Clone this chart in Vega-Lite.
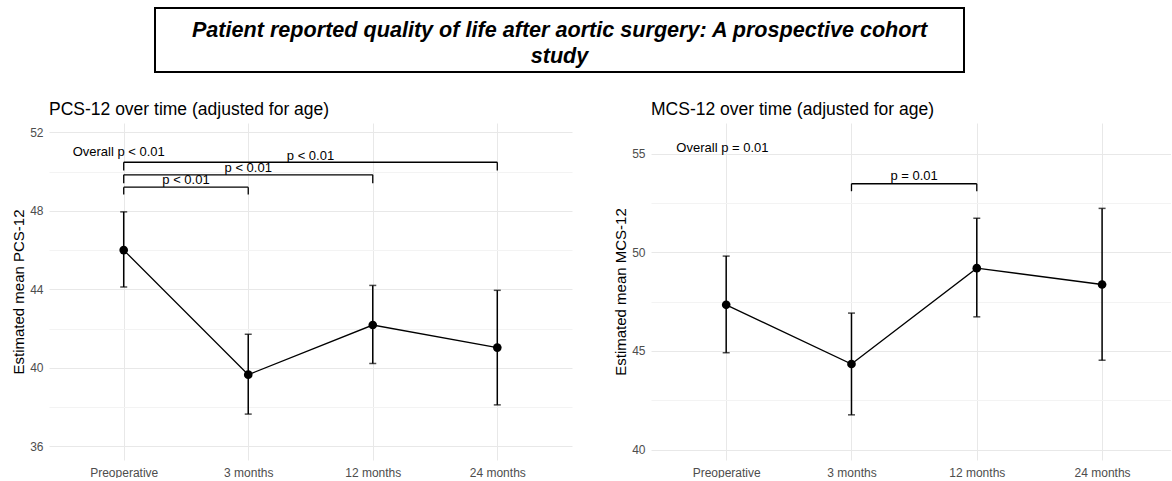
{
  "$schema": "https://vega.github.io/schema/vega-lite/v6.json",
  "padding": {"left": 11, "top": 7, "right": 0, "bottom": 0},
  "background": "white",
  "config": {
    "view": {"stroke": null},
    "font": "Liberation Sans",
    "axis": {"labelFont": "Liberation Sans", "titleFont": "Liberation Sans"}
  },
  "datasets": {
    "pcs": [
      {"time": "Preoperative", "t": 0, "mean": 46.0, "lo": 44.12, "hi": 47.95},
      {"time": "3 months", "t": 1, "mean": 39.65, "lo": 37.64, "hi": 41.71},
      {"time": "12 months", "t": 2, "mean": 42.18, "lo": 40.22, "hi": 44.2},
      {"time": "24 months", "t": 3, "mean": 41.03, "lo": 38.11, "hi": 43.95}
    ],
    "mcs": [
      {"time": "Preoperative", "t": 0, "mean": 47.34, "lo": 44.91, "hi": 49.81},
      {"time": "3 months", "t": 1, "mean": 44.34, "lo": 41.76, "hi": 46.92},
      {"time": "12 months", "t": 2, "mean": 49.2, "lo": 46.73, "hi": 51.73},
      {"time": "24 months", "t": 3, "mean": 48.37, "lo": 44.53, "hi": 52.23}
    ],
    "pcsBr": [
      {"from": 0, "to": 1, "y": 49.21, "leg": 48.84},
      {"from": 0, "to": 2, "y": 49.84, "leg": 49.41},
      {"from": 0, "to": 3, "y": 50.48, "leg": 50.06}
    ],
    "pcsText": [
      {"x": -0.04, "y": 51.02, "label": "Overall p < 0.01"},
      {"x": 0.5, "y": 49.55, "label": "p < 0.01"},
      {"x": 1, "y": 50.19, "label": "p < 0.01"},
      {"x": 1.5, "y": 50.82, "label": "p < 0.01"}
    ],
    "mcsBr": [
      {"from": 1, "to": 2, "y": 53.48, "leg": 53.1}
    ],
    "mcsText": [
      {"x": -0.03, "y": 55.3, "label": "Overall p = 0.01"},
      {"x": 1.5, "y": 53.85, "label": "p = 0.01"}
    ],
    "header": [
      {"line": ["Patient reported quality of life after aortic surgery: A prospective cohort", "study"]}
    ]
  },
  "spacing": 27,
  "vconcat": [
    {
      "spacing": 0,
      "hconcat": [
        {"width": 105, "height": 64, "data": {"values": [{"a": 1}]}, "mark": {"type": "text", "text": ""}, "encoding": {}},
        {
          "width": 809, "height": 64,
          "view": {"stroke": "black", "strokeWidth": 2, "fill": "white"},
          "data": {"name": "header"},
          "mark": {"type": "text", "font": "Liberation Sans", "fontSize": 21.6, "fontWeight": "bold", "fontStyle": "italic", "lineHeight": 26, "baseline": "middle", "align": "center", "dy": -9, "color": "black"},
          "encoding": {"text": {"field": "line"}}
        }
      ]
    },
    {
      "spacing": 41,
      "hconcat": [
        {
          "width": 523, "height": 337,
          "title": {"text": "PCS-12 over time (adjusted for age)", "anchor": "start", "frame": "group", "fontSize": 17.5, "fontWeight": "normal", "color": "black", "offset": 5, "font": "Liberation Sans"},
          "layer": [
            {
              "data": {"name": "pcs"},
              "mark": {"type": "rule", "strokeWidth": 1.5, "color": "black"},
              "encoding": {
                "x": {"field": "t", "type": "quantitative", "title": null,
                  "scale": {"domain": [-0.6, 3.6], "nice": false, "zero": false},
                  "axis": {"values": [0, 1, 2, 3], "labelExpr": "['Preoperative','3 months','12 months','24 months'][datum.value]", "grid": true, "gridColor": "#e8e8e8", "gridWidth": 1, "domain": false, "ticks": false, "labelPadding": 7, "labelFontSize": 12, "labelColor": "#4d4d4d", "labelFlush": false, "labelOverlap": false}},
                "y": {"field": "lo", "type": "quantitative", "title": "Estimated mean PCS-12",
                  "scale": {"domain": [35.3, 52.48], "nice": false, "zero": false},
                  "axis": {"values": [36, 38, 40, 42, 44, 46, 48, 50, 52], "labelExpr": "datum.value % 4 == 0 ? datum.label : ''", "grid": true, "gridColor": {"condition": {"test": "datum.value % 4 == 0", "value": "#e8e8e8"}, "value": "#f3f3f3"}, "gridWidth": 1, "domain": false, "ticks": false, "labelPadding": 6, "labelFontSize": 12, "labelColor": "#4d4d4d", "labelOverlap": false, "titleFontSize": 15, "titleFontWeight": "normal", "titleColor": "black", "titlePadding": 3}},
                "y2": {"field": "hi"}
              }
            },
            {
              "data": {"name": "pcs"},
              "mark": {"type": "tick", "orient": "horizontal", "size": 7, "thickness": 1.5, "color": "black"},
              "encoding": {"x": {"field": "t", "type": "quantitative", "title": null}, "y": {"field": "hi", "type": "quantitative", "title": "Estimated mean PCS-12"}}
            },
            {
              "data": {"name": "pcs"},
              "mark": {"type": "tick", "orient": "horizontal", "size": 7, "thickness": 1.5, "color": "black"},
              "encoding": {"x": {"field": "t", "type": "quantitative", "title": null}, "y": {"field": "lo", "type": "quantitative", "title": "Estimated mean PCS-12"}}
            },
            {
              "data": {"name": "pcs"},
              "mark": {"type": "line", "strokeWidth": 1.3, "color": "black"},
              "encoding": {"x": {"field": "t", "type": "quantitative", "title": null}, "y": {"field": "mean", "type": "quantitative", "title": "Estimated mean PCS-12"}}
            },
            {
              "data": {"name": "pcs"},
              "mark": {"type": "circle", "size": 75, "opacity": 1, "color": "black"},
              "encoding": {"x": {"field": "t", "type": "quantitative", "title": null}, "y": {"field": "mean", "type": "quantitative", "title": "Estimated mean PCS-12"}}
            },
            {
              "data": {"name": "pcsBr"},
              "mark": {"type": "rule", "strokeWidth": 1.3, "color": "black"},
              "encoding": {"x": {"field": "from", "type": "quantitative", "title": null}, "x2": {"field": "to"}, "y": {"field": "y", "type": "quantitative", "title": "Estimated mean PCS-12"}}
            },
            {
              "data": {"name": "pcsBr"},
              "mark": {"type": "rule", "strokeWidth": 1.3, "color": "black"},
              "encoding": {"x": {"field": "from", "type": "quantitative", "title": null}, "y": {"field": "y", "type": "quantitative", "title": "Estimated mean PCS-12"}, "y2": {"field": "leg"}}
            },
            {
              "data": {"name": "pcsBr"},
              "mark": {"type": "rule", "strokeWidth": 1.3, "color": "black"},
              "encoding": {"x": {"field": "to", "type": "quantitative", "title": null}, "y": {"field": "y", "type": "quantitative", "title": "Estimated mean PCS-12"}, "y2": {"field": "leg"}}
            },
            {
              "data": {"name": "pcsText"},
              "mark": {"type": "text", "fontSize": 13, "color": "black", "baseline": "middle", "align": "center", "font": "Liberation Sans"},
              "encoding": {"x": {"field": "x", "type": "quantitative", "title": null}, "y": {"field": "y", "type": "quantitative", "title": "Estimated mean PCS-12"}, "text": {"field": "label"}}
            }
          ]
        },
        {
          "width": 520, "height": 337,
          "title": {"text": "MCS-12 over time (adjusted for age)", "anchor": "start", "frame": "group", "fontSize": 17.5, "fontWeight": "normal", "color": "black", "offset": 5, "font": "Liberation Sans"},
          "layer": [
            {
              "data": {"name": "mcs"},
              "mark": {"type": "rule", "strokeWidth": 1.5, "color": "black"},
              "encoding": {
                "x": {"field": "t", "type": "quantitative", "title": null,
                  "scale": {"domain": [-0.6, 3.55], "nice": false, "zero": false},
                  "axis": {"values": [0, 1, 2, 3], "labelExpr": "['Preoperative','3 months','12 months','24 months'][datum.value]", "grid": true, "gridColor": "#e8e8e8", "gridWidth": 1, "domain": false, "ticks": false, "labelPadding": 7, "labelFontSize": 12, "labelColor": "#4d4d4d", "labelFlush": false, "labelOverlap": false}},
                "y": {"field": "lo", "type": "quantitative", "title": "Estimated mean MCS-12",
                  "scale": {"domain": [39.47, 56.56], "nice": false, "zero": false},
                  "axis": {"values": [40, 42.5, 45, 47.5, 50, 52.5, 55], "labelExpr": "datum.value % 5 == 0 ? datum.label : ''", "grid": true, "gridColor": {"condition": {"test": "datum.value % 5 == 0", "value": "#e8e8e8"}, "value": "#f3f3f3"}, "gridWidth": 1, "domain": false, "ticks": false, "labelPadding": 6, "labelFontSize": 12, "labelColor": "#4d4d4d", "labelOverlap": false, "titleFontSize": 15, "titleFontWeight": "normal", "titleColor": "black", "titlePadding": 3}},
                "y2": {"field": "hi"}
              }
            },
            {
              "data": {"name": "mcs"},
              "mark": {"type": "tick", "orient": "horizontal", "size": 7, "thickness": 1.5, "color": "black"},
              "encoding": {"x": {"field": "t", "type": "quantitative", "title": null}, "y": {"field": "hi", "type": "quantitative", "title": "Estimated mean MCS-12"}}
            },
            {
              "data": {"name": "mcs"},
              "mark": {"type": "tick", "orient": "horizontal", "size": 7, "thickness": 1.5, "color": "black"},
              "encoding": {"x": {"field": "t", "type": "quantitative", "title": null}, "y": {"field": "lo", "type": "quantitative", "title": "Estimated mean MCS-12"}}
            },
            {
              "data": {"name": "mcs"},
              "mark": {"type": "line", "strokeWidth": 1.3, "color": "black"},
              "encoding": {"x": {"field": "t", "type": "quantitative", "title": null}, "y": {"field": "mean", "type": "quantitative", "title": "Estimated mean MCS-12"}}
            },
            {
              "data": {"name": "mcs"},
              "mark": {"type": "circle", "size": 75, "opacity": 1, "color": "black"},
              "encoding": {"x": {"field": "t", "type": "quantitative", "title": null}, "y": {"field": "mean", "type": "quantitative", "title": "Estimated mean MCS-12"}}
            },
            {
              "data": {"name": "mcsBr"},
              "mark": {"type": "rule", "strokeWidth": 1.3, "color": "black"},
              "encoding": {"x": {"field": "from", "type": "quantitative", "title": null}, "x2": {"field": "to"}, "y": {"field": "y", "type": "quantitative", "title": "Estimated mean MCS-12"}}
            },
            {
              "data": {"name": "mcsBr"},
              "mark": {"type": "rule", "strokeWidth": 1.3, "color": "black"},
              "encoding": {"x": {"field": "from", "type": "quantitative", "title": null}, "y": {"field": "y", "type": "quantitative", "title": "Estimated mean MCS-12"}, "y2": {"field": "leg"}}
            },
            {
              "data": {"name": "mcsBr"},
              "mark": {"type": "rule", "strokeWidth": 1.3, "color": "black"},
              "encoding": {"x": {"field": "to", "type": "quantitative", "title": null}, "y": {"field": "y", "type": "quantitative", "title": "Estimated mean MCS-12"}, "y2": {"field": "leg"}}
            },
            {
              "data": {"name": "mcsText"},
              "mark": {"type": "text", "fontSize": 13, "color": "black", "baseline": "middle", "align": "center", "font": "Liberation Sans"},
              "encoding": {"x": {"field": "x", "type": "quantitative", "title": null}, "y": {"field": "y", "type": "quantitative", "title": "Estimated mean MCS-12"}, "text": {"field": "label"}}
            }
          ]
        }
      ]
    }
  ]
}
